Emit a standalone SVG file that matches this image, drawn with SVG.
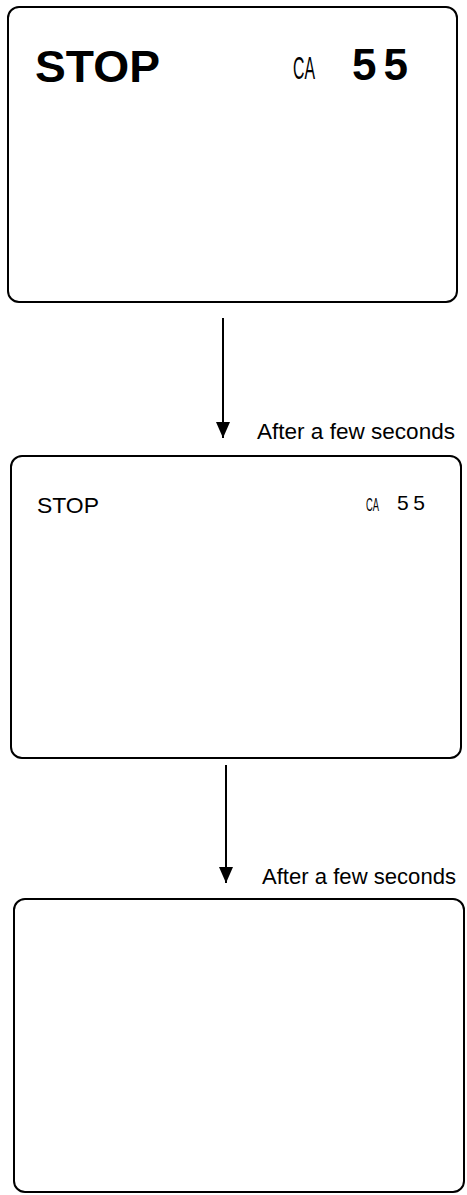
<svg xmlns="http://www.w3.org/2000/svg" width="467" height="1195" viewBox="0 0 467 1195">
<style>
.box{fill:#fff;stroke:#000;stroke-width:2}
.big{font-family:"Liberation Sans","DejaVu Sans",sans-serif;font-weight:bold;fill:#000}
.small{font-family:"Liberation Sans","DejaVu Sans",sans-serif;font-weight:normal;fill:#000}
.ca{font-family:"Liberation Sans","DejaVu Sans",sans-serif;fill:#000}
.lbl{font-family:"Liberation Sans",Arial,sans-serif;font-size:22px;fill:#000}
.conn{stroke:#000;stroke-width:2;fill:none}
</style>
<defs>
<marker id="ah" markerUnits="userSpaceOnUse" viewBox="0 0 16 14" markerWidth="16" markerHeight="14" refX="16" refY="7" orient="auto">
<path d="M0,0 L16,7 L0,14 z" fill="#000"/>
</marker>
</defs>
<rect width="467" height="1195" fill="#fff"/>
<g id="screen1">
<rect class="box" x="8" y="7" width="449" height="295" rx="11"/>
<text class="big" x="35" y="82" font-size="44" textLength="125" lengthAdjust="spacingAndGlyphs">STOP</text>
<text class="ca" x="293" y="79" font-size="31" textLength="22" lengthAdjust="spacingAndGlyphs">CA</text>
<text class="big" x="352" y="80" font-size="44" textLength="56" lengthAdjust="spacing">55</text>
</g>
<g id="screen2">
<rect class="box" x="11" y="456" width="450" height="302" rx="11"/>
<text class="small" x="37" y="513" font-size="22" textLength="62" lengthAdjust="spacingAndGlyphs">STOP</text>
<text class="ca" x="366" y="511" font-size="18" textLength="13" lengthAdjust="spacingAndGlyphs">CA</text>
<text class="small" x="397" y="510" font-size="21" textLength="28" lengthAdjust="spacing">55</text>
</g>
<g id="screen3">
<rect class="box" x="14" y="899" width="450" height="293" rx="11"/>
</g>
<g id="connectors">
<line class="conn" x1="223" y1="318" x2="223" y2="438" marker-end="url(#ah)"/>
<text class="lbl" x="257" y="439" textLength="198" lengthAdjust="spacingAndGlyphs">After a few seconds</text>
<line class="conn" x1="226" y1="765" x2="226" y2="883" marker-end="url(#ah)"/>
<text class="lbl" x="262" y="884" textLength="194" lengthAdjust="spacingAndGlyphs">After a few seconds</text>
</g>
</svg>
